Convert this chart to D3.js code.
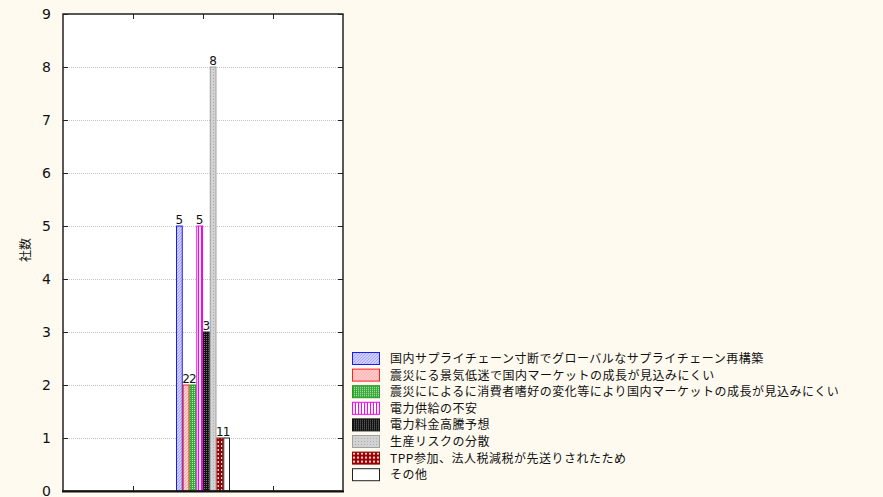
<!DOCTYPE html>
<html>
<head>
<meta charset="utf-8">
<script src="https://cdn.jsdelivr.net/npm/d3@7"></script>
<style>
  html, body { margin: 0; padding: 0; background: #fefaf0; }
  svg { display: block; }
</style>
</head>
<body>
<div id="chart"></div>
<script>
// data
var seriesNames = [
    "国内サプライチェーン寸断でグローバルなサプライチェーン再構築",
    "震災にる景気低迷で国内マーケットの成長が見込みにくい",
    "震災にによるに消費者嗜好の変化等により国内マーケットの成長が見込みにくい",
    "電力供給の不安",
    "電力料金高騰予想",
    "生産リスクの分散",
    "TPP参加、法人税減税が先送りされたため",
    "その他"
];
var seriesValues = [5, 2, 2, 5, 3, 8, 1, 1];
var yTickValues = [0, 1, 2, 3, 4, 5, 6, 7, 8, 9];
var xTickValues = [1, 2, 3];
var yLabel = "社数";

// look of each series (pattern id, border colour)
var seriesStyle = [
    { id: "p0", stroke: "#1a1aff" },
    { id: "p1", stroke: "#ff2020" },
    { id: "p2", stroke: "#1f9a1f" },
    { id: "p3", stroke: "#ff00ff" },
    { id: "p4", stroke: "#111111" },
    { id: "p5", stroke: "#a0a0a0" },
    { id: "p6", stroke: "#8b0000" },
    { id: "p7", stroke: "#222222" }
];

var width = 883, height = 497;
var plot = { left: 63, right: 343, top: 14, bottom: 491 };

var svg = d3.select("#chart").append("svg")
    .attr("width", width)
    .attr("height", height);

svg.append("rect").attr("width", width).attr("height", height).attr("fill", "#fefaf0");

// patterns
var defs = svg.append("defs");
function pat(id, w, h, bg, draw) {
    var p = defs.append("pattern").attr("id", id)
        .attr("patternUnits", "userSpaceOnUse").attr("width", w).attr("height", h);
    p.append("rect").attr("width", w).attr("height", h).attr("fill", bg);
    draw(p);
}
pat("p0", 3, 3, "#d0d0ff", function (p) {
    p.append("path").attr("d", "M0,3 L3,0").attr("stroke", "#9090ff").attr("stroke-width", 0.7);
});
pat("p1", 3, 3, "#ffd0d0", function (p) {
    p.append("path").attr("d", "M0,3 L3,0").attr("stroke", "#ff9090").attr("stroke-width", 0.7);
});
pat("p2", 2, 2, "#3aa83a", function (p) {
    p.append("rect").attr("width", 1).attr("height", 1).attr("fill", "#b8e8b8");
});
pat("p3", 3, 2, "#ffffff", function (p) {
    p.append("rect").attr("width", 1).attr("height", 2).attr("fill", "#ff00ff");
});
pat("p4", 2, 2, "#111111", function (p) {
    p.append("rect").attr("width", 1).attr("height", 1).attr("fill", "#777777");
});
pat("p5", 3, 3, "#d2d2d2", function (p) {
    p.append("rect").attr("width", 1).attr("height", 1).attr("fill", "#acacac");
});
pat("p6", 4, 4, "#9b0000", function (p) {
    p.append("circle").attr("cx", 2).attr("cy", 2).attr("r", 1.1).attr("fill", "#ffffff");
});
pat("p7", 2, 2, "#ffffff", function () {});

// scales
var x = d3.scaleLinear().domain([0, 4]).range([plot.left, plot.right]);
var y = d3.scaleLinear().domain([0, 9]).range([plot.bottom, plot.top]);
var inner = d3.scaleBand().domain(d3.range(seriesValues.length))
    .range([x(2) - 27, x(2) + 27]).padding(0);

// plot area
svg.append("rect")
    .attr("x", plot.left).attr("y", plot.top)
    .attr("width", plot.right - plot.left).attr("height", plot.bottom - plot.top)
    .attr("fill", "#ffffff");

// grid
svg.append("g").selectAll("line")
    .data(yTickValues.filter(function (d) { return d > 0 && d < 9; }))
    .enter().append("line")
    .attr("x1", plot.left).attr("x2", plot.right)
    .attr("y1", function (d) { return y(d) + 0.5; })
    .attr("y2", function (d) { return y(d) + 0.5; })
    .attr("stroke", "#c4c4c4").attr("stroke-width", 1)
    .attr("stroke-dasharray", "1,1");

// bars
svg.append("g").selectAll("rect")
    .data(seriesValues)
    .enter().append("rect")
    .attr("x", function (d, i) { return inner(i) + 0.5; })
    .attr("y", function (d) { return y(d); })
    .attr("width", inner.bandwidth() - 1)
    .attr("height", function (d) { return y(0) - y(d); })
    .attr("fill", function (d, i) { return "url(#" + seriesStyle[i].id + ")"; })
    .attr("stroke", function (d, i) { return seriesStyle[i].stroke; })
    .attr("stroke-width", 1);

// value labels
svg.append("g").selectAll("text")
    .data(seriesValues)
    .enter().append("text")
    .attr("x", function (d, i) { return inner(i) + inner.bandwidth() / 2; })
    .attr("y", function (d) { return y(d) - 2; })
    .attr("text-anchor", "middle")
    .attr("font-family", "DejaVu Sans, sans-serif")
    .attr("font-size", 12)
    .attr("fill", "#111")
    .text(function (d) { return d; });

// axes
var axisLeft = d3.axisLeft(y).tickValues(yTickValues).tickSize(-5).tickPadding(12);
var gl = svg.append("g").attr("transform", "translate(" + plot.left + ",0)").call(axisLeft);
gl.select(".domain").remove();
gl.selectAll("text").attr("font-family", "DejaVu Sans, sans-serif").attr("font-size", 14).attr("fill", "#111");
gl.selectAll("line").attr("stroke", "#222");

var axisRight = d3.axisRight(y).tickValues(yTickValues).tickSize(-5).tickFormat("");
var gr = svg.append("g").attr("transform", "translate(" + plot.right + ",0)").call(axisRight);
gr.select(".domain").remove();
gr.selectAll("line").attr("stroke", "#222");

var axisTop = d3.axisTop(x).tickValues(xTickValues).tickSize(-5).tickFormat("");
var gt = svg.append("g").attr("transform", "translate(0," + plot.top + ")").call(axisTop);
gt.select(".domain").remove();
gt.selectAll("line").attr("stroke", "#222");

var axisBottom = d3.axisBottom(x).tickValues(xTickValues).tickSize(-5).tickFormat("");
var gb = svg.append("g").attr("transform", "translate(0," + plot.bottom + ")").call(axisBottom);
gb.select(".domain").remove();
gb.selectAll("line").attr("stroke", "#222");

// frame
svg.append("rect")
    .attr("x", plot.left).attr("y", plot.top)
    .attr("width", plot.right - plot.left).attr("height", plot.bottom - plot.top)
    .attr("fill", "none").attr("stroke", "#222").attr("stroke-width", 1.5);
svg.append("line")
    .attr("x1", plot.left - 1).attr("x2", plot.right + 1)
    .attr("y1", plot.bottom + 0.5).attr("y2", plot.bottom + 0.5)
    .attr("stroke", "#111").attr("stroke-width", 2);

// y label
svg.append("text")
    .attr("transform", "translate(30,250) rotate(-90)")
    .attr("text-anchor", "middle")
    .attr("font-family", "Noto Sans CJK JP, sans-serif")
    .attr("font-size", 12)
    .attr("fill", "#111")
    .text(yLabel);

// legend
var legend = svg.append("g").attr("transform", "translate(352,352)");
var rows = legend.selectAll("g").data(seriesNames).enter().append("g")
    .attr("transform", function (d, i) { return "translate(0," + (i * 16.6) + ")"; });
rows.append("rect")
    .attr("x", 0.5).attr("y", 0.5).attr("width", 27).attr("height", 12)
    .attr("fill", function (d, i) { return "url(#" + seriesStyle[i].id + ")"; })
    .attr("stroke", function (d, i) { return seriesStyle[i].stroke; })
    .attr("stroke-width", 1);
rows.append("text")
    .attr("x", 38).attr("y", 11)
    .attr("font-family", "Noto Sans CJK JP, sans-serif")
    .attr("font-size", 12)
    .attr("letter-spacing", 0.5)
    .attr("fill", "#111")
    .text(function (d) { return d; });
</script>
</body>
</html>
